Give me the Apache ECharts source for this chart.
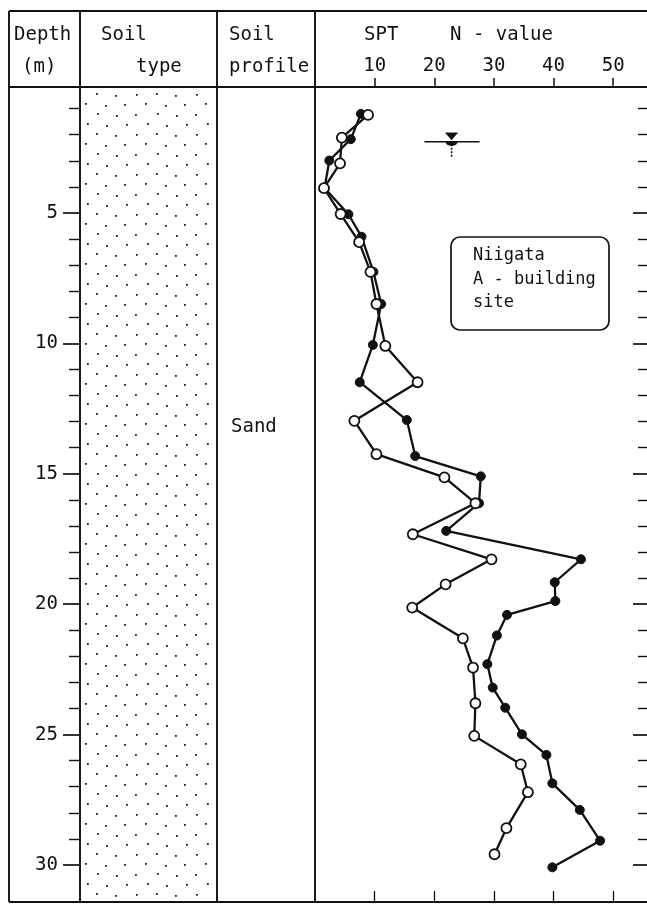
<!DOCTYPE html>
<html>
<head>
<meta charset="utf-8">
<title>Niigata A-building site – SPT N-value log</title>
<script src="https://cdn.jsdelivr.net/npm/echarts@6/dist/echarts.min.js"></script>
<style>
  html, body { margin: 0; padding: 0; background: #fff; }
  #chart { width: 647px; height: 904px; }
</style>
</head>
<body>
<div id="chart"></div>
<script>
// Boring log: SPT N-value against depth, two borings (closed / open symbols)

// Depth axis ticks (m)
const DEPTH_MAJOR = [5, 10, 15, 20, 25, 30];
const DEPTH_MINOR = [1, 2, 3, 4, 6, 7, 8, 9, 11, 12, 13, 14, 16, 17, 18, 19,
                     21, 22, 23, 24, 26, 27, 28, 29];
// N-value axis ticks
const N_TICKS = [10, 20, 30, 40, 50];

// Boring with closed circles
const depthClosed = [1.20, 2.17, 2.99, 4.04, 5.05, 5.91, 7.26, 8.49, 10.06, 11.49,
                     12.94, 14.32, 15.10, 16.13, 17.19, 18.28, 19.16, 19.88, 20.41, 21.20,
                     22.30, 23.20, 23.97, 24.99, 25.78, 26.87, 27.89, 29.07, 30.09];
const nClosed     = [7.7, 6.0, 2.4, 1.6, 5.6, 7.8, 9.8, 11.1, 9.7, 7.5,
                     15.4, 16.8, 27.8, 27.5, 22.0, 44.6, 40.2, 40.3, 32.2, 30.5,
                     28.9, 29.8, 31.9, 34.7, 38.8, 39.8, 44.4, 47.8, 39.8];

// Boring with open circles
const depthOpen = [1.24, 2.11, 3.10, 4.05, 5.04, 6.12, 7.26, 8.49, 10.10, 11.49,
                   12.97, 14.25, 15.14, 16.13, 17.32, 18.28, 19.24, 20.13, 21.31, 22.43,
                   23.80, 25.05, 26.14, 27.21, 28.59, 29.59];
const nOpen     = [8.9, 4.5, 4.2, 1.5, 4.3, 7.4, 9.3, 10.3, 11.8, 17.2,
                   6.6, 10.3, 21.7, 26.9, 16.4, 29.6, 21.9, 16.3, 24.8, 26.5,
                   26.9, 26.7, 34.5, 35.7, 32.1, 30.1];

// Ground water level (N position is only where the symbol sits)
const waterTable = [[22.9, 2.27]];

const soilLayers = ['Sand'];

const FONT = 'DejaVu Sans Mono';
const INK = '#111';

const DEPTH_MIN = 0.17, DEPTH_MAX = 31.42;
const N_MIN = 0, N_MAX = 55.67;

function pairs(xs, ys) { return xs.map((x, i) => [x, ys[i]]); }

// Stippled tile for the sand column
function sandTile() {
  const c = document.createElement('canvas');
  c.width = 60; c.height = 40;
  const g = c.getContext('2d');
  g.fillStyle = '#1e1e1e';
  const dots = [
    [6, 4], [27, 3], [46, 5],
    [16, 14], [36, 13], [55, 15],
    [4, 24], [25, 23], [45, 25],
    [15, 34], [37, 33], [56, 35]
  ];
  dots.forEach(d => g.fillRect(d[0], d[1], 1.8, 1.8));
  return c;
}

const chart = echarts.init(document.getElementById('chart'), null, { renderer: 'canvas' });

const lineStyle = { stroke: INK, lineWidth: 1.9 };
function vline(x, y1, y2) { return { type: 'line', shape: { x1: x, y1: y1, x2: x, y2: y2 }, style: lineStyle, z: 10 }; }
function hline(y, x1, x2) { return { type: 'line', shape: { x1: x1, y1: y, x2: x2, y2: y }, style: lineStyle, z: 10 }; }
function txt(x, y, s, size) {
  return {
    type: 'text', x: x, y: y, z: 12,
    style: { text: s, font: (size || 18) + 'px "' + FONT + '"', fill: INK, verticalAlign: 'middle' }
  };
}

const TOP = 11, HEAD = 87, BOTTOM = 902, LEFT = 9, RIGHT = 649;
const COL_DEPTH = 80, COL_TYPE = 217, COL_SPT = 315;

function depthAxis(gridIndex, position, ticks, len, inside, labels) {
  return {
    type: 'value', gridIndex: gridIndex, position: position, inverse: true,
    min: DEPTH_MIN, max: DEPTH_MAX,
    splitLine: { show: false }, axisLine: { show: false, onZero: false },
    axisTick: { show: true, inside: inside, length: len, customValues: ticks,
                lineStyle: { color: INK, width: len > 12 ? 1.7 : 1.4 } },
    axisLabel: labels
      ? { show: true, customValues: ticks, margin: 22, color: INK, fontFamily: FONT, fontSize: 19 }
      : { show: false }
  };
}
function hiddenX(gridIndex) {
  return { type: 'value', gridIndex: gridIndex, show: false, min: 0, max: 1,
           axisLine: { onZero: false } };
}

const sptGrid = { left: COL_SPT, right: 647 - RIGHT, top: HEAD, bottom: 904 - BOTTOM };
const typeGrid = { left: COL_DEPTH, right: 647 - COL_TYPE, top: HEAD, bottom: 904 - BOTTOM };

const option = {
  backgroundColor: '#fff',
  animation: false,
  grid: [
    sptGrid,                       // 0: SPT plot, major depth ticks on the right
    Object.assign({}, sptGrid),    // 1: minor depth ticks on the right
    typeGrid,                      // 2: depth scale (major) on the soil type column
    Object.assign({}, typeGrid)    // 3: minor depth ticks
  ],
  xAxis: [
    {
      type: 'value', gridIndex: 0, position: 'top', min: N_MIN, max: N_MAX,
      splitLine: { show: false }, axisLine: { show: false, onZero: false },
      axisTick: { show: true, inside: false, length: 9, customValues: N_TICKS,
                  lineStyle: { color: INK, width: 1.5 } },
      axisLabel: { show: true, customValues: N_TICKS, margin: 11, color: INK,
                   fontFamily: FONT, fontSize: 19 }
    },
    {
      type: 'value', gridIndex: 0, position: 'bottom', min: N_MIN, max: N_MAX,
      splitLine: { show: false }, axisLine: { show: false, onZero: false },
      axisTick: { show: true, inside: true, length: 11, customValues: N_TICKS,
                  lineStyle: { color: INK, width: 1.3 } },
      axisLabel: { show: false }
    },
    hiddenX(1), hiddenX(2), hiddenX(3)
  ],
  yAxis: [
    depthAxis(0, 'right', DEPTH_MAJOR, 14, true, false),
    depthAxis(1, 'right', DEPTH_MINOR, 9, true, false),
    depthAxis(2, 'left', DEPTH_MAJOR, 17, false, true),
    depthAxis(3, 'left', DEPTH_MINOR, 11, false, false)
  ],
  series: [
    {
      name: 'closed', type: 'line', xAxisIndex: 0, yAxisIndex: 0,
      data: pairs(nClosed, depthClosed),
      symbol: 'circle', symbolSize: 9,
      lineStyle: { color: INK, width: 2.3 },
      itemStyle: { color: INK, borderColor: INK, borderWidth: 1 },
      z: 3
    },
    {
      name: 'open', type: 'line', xAxisIndex: 0, yAxisIndex: 0,
      data: pairs(nOpen, depthOpen),
      symbol: 'circle', symbolSize: 10,
      showAllSymbol: true,
      lineStyle: { color: INK, width: 2.3 },
      itemStyle: { color: '#fff', borderColor: INK, borderWidth: 1.8 },
      z: 4
    },
    {
      name: 'GWL', type: 'custom', xAxisIndex: 0, yAxisIndex: 0,
      data: waterTable, silent: true, z: 5,
      renderItem: function (params, api) {
        const p = api.coord([api.value(0), api.value(1)]);
        const x = p[0], y = p[1];
        return {
          type: 'group',
          children: [
            { type: 'line', shape: { x1: x - 27, y1: y, x2: x + 28, y2: y }, style: { stroke: INK, lineWidth: 1.7 } },
            { type: 'line', shape: { x1: x - 6, y1: y - 8.5, x2: x + 6, y2: y - 8.5 }, style: { stroke: INK, lineWidth: 1.5 } },
            { type: 'polygon', shape: { points: [[x - 5.5, y - 8], [x + 5.5, y - 8], [x, y - 1.5]] }, style: { fill: INK } },
            { type: 'polygon', shape: { points: [[x - 6.5, y], [x + 6.5, y], [x + 4.5, y + 3], [x, y + 4.5], [x - 4.5, y + 3]] }, style: { fill: INK } },
            { type: 'rect', shape: { x: x - 0.8, y: y + 6, width: 1.6, height: 2 }, style: { fill: INK } },
            { type: 'rect', shape: { x: x - 0.8, y: y + 9.5, width: 1.6, height: 2 }, style: { fill: INK } },
            { type: 'rect', shape: { x: x - 0.8, y: y + 13, width: 1.6, height: 2 }, style: { fill: INK } }
          ]
        };
      }
    }
  ],
  graphic: [
    // sand stipple in the soil type column
    { type: 'rect', z: 1, shape: { x: COL_DEPTH + 1, y: HEAD + 1, width: COL_TYPE - COL_DEPTH - 2, height: BOTTOM - HEAD - 2 },
      style: { fill: { image: sandTile(), repeat: 'repeat' } } },
    // table frame
    hline(TOP, LEFT, 647), hline(HEAD, LEFT, 647), hline(BOTTOM, LEFT, 647),
    vline(LEFT, TOP, BOTTOM), vline(COL_DEPTH, TOP, BOTTOM),
    vline(COL_TYPE, TOP, BOTTOM), vline(COL_SPT, TOP, BOTTOM),
    // header
    txt(14, 35, 'Depth', 19),
    txt(22, 67, '(m)', 19),
    txt(101, 35, 'Soil', 19),
    txt(136, 67, 'type', 19),
    txt(229, 35, 'Soil', 19),
    txt(229, 67, 'profile', 19),
    txt(364, 35, 'SPT', 19),
    txt(450, 35, 'N - value', 19),
    // soil profile label
    txt(231, 427, soilLayers[0], 19),
    // site note
    { type: 'rect', z: 11, shape: { x: 451, y: 237, width: 158, height: 93, r: 9 },
      style: { fill: '#fff', stroke: INK, lineWidth: 1.7 } },
    txt(473, 256, 'Niigata', 17),
    txt(473, 280, 'A - building', 17),
    txt(473, 303, 'site', 17)
  ]
};

chart.setOption(option);
</script>
</body>
</html>
